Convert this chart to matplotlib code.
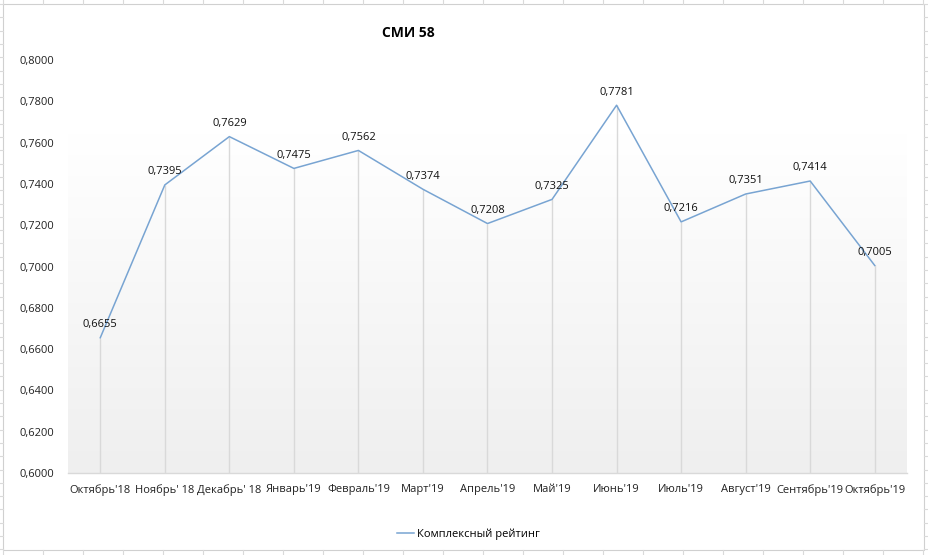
import matplotlib
matplotlib.use("Agg")
import matplotlib.pyplot as plt
import numpy as np
from matplotlib.lines import Line2D
from matplotlib.patches import Rectangle
from matplotlib.colors import LinearSegmentedColormap

plt.rcParams['font.family'] = ['Open Sans', 'DejaVu Sans']

categories = ["Октябрь'18", "Ноябрь' 18", "Декабрь' 18", "Январь'19", "Февраль'19",
              "Март'19", "Апрель'19", "Май'19", "Июнь'19", "Июль'19", "Август'19",
              "Сентябрь'19", "Октябрь'19"]
values = [0.6655, 0.7395, 0.7629, 0.7475, 0.7562, 0.7374, 0.7208, 0.7325,
          0.7781, 0.7216, 0.7351, 0.7414, 0.7005]
yticks = [0.60, 0.62, 0.64, 0.66, 0.68, 0.70, 0.72, 0.74, 0.76, 0.78, 0.80]
title = "СМИ 58"
series_name = "Комплексный рейтинг"

W, H = 929, 555
fig = plt.figure(figsize=(W / 100, H / 100), dpi=100)
fig.patch.set_facecolor('white')

# spreadsheet cell grid in background
gc = '#dadada'
for xv in np.arange(3, W, 40):
    fig.add_artist(Line2D([xv / W, xv / W], [1 - 4 / H, 1], color=gc, lw=0.8))
    fig.add_artist(Line2D([xv / W, xv / W], [0, 1 - 550 / H], color=gc, lw=0.8))
for yv in np.arange(4, H, 13.3):
    fig.add_artist(Line2D([0, 3 / W], [1 - yv / H, 1 - yv / H], color=gc, lw=0.8))
    fig.add_artist(Line2D([924 / W, 1], [1 - yv / H, 1 - yv / H], color=gc, lw=0.8))
fig.add_artist(Rectangle((3 / W, 1 - 550 / H), 921 / W, 546 / H, transform=fig.transFigure,
                         facecolor='white', edgecolor='#d0d0d0', lw=0.8, zorder=0))

ax = fig.add_axes([68 / W, 1 - 473 / H, (907 - 68) / W, (473 - 60) / H])
ax.set_facecolor('none')
x = np.arange(len(categories))
ax.set_xlim(-0.5, len(categories) - 0.5)
ax.set_ylim(0.6, 0.8)

# gradient plot area fill
grad = np.linspace(0, 1, 256).reshape(-1, 1)
cmap = LinearSegmentedColormap.from_list('g', ['#efefef', '#ffffff'])
ax.imshow(grad, extent=(-0.5, len(categories) - 0.5, 0.6, 0.7646), origin='lower',
          aspect='auto', cmap=cmap, zorder=0)

# drop lines
ax.vlines(x, 0.6, values, color='#d9d9d9', lw=1, zorder=1)
ax.plot(x, values, color='#78a4d2', lw=1.1, zorder=3)

for xi, v in zip(x, values):
    ax.annotate(f"{v:.4f}".replace('.', ','), (xi, v), xytext=(0, 5.5),
                textcoords='offset points', ha='center', va='bottom', fontsize=8, color='#111111')

ax.set_xticks(x)
ax.set_xticklabels(categories, fontsize=8, color='#222222')
ax.set_yticks(yticks)
ax.set_yticklabels([f"{t:.4f}".replace('.', ',') for t in yticks], fontsize=8, color='#222222')
ax.tick_params(axis='both', length=0)
ax.tick_params(axis='x', pad=8)
ax.tick_params(axis='y', pad=10)
for s in ['top', 'right', 'left']:
    ax.spines[s].set_visible(False)
ax.spines['bottom'].set_color('#d9d9d9')
ax.spines['bottom'].set_linewidth(1)

fig.text(408 / W, 1 - 33 / H, title, ha='center', va='center', fontsize=10, fontweight='bold')

handle = Line2D([], [], color='#78a4d2', lw=1.1)
fig.legend([handle], [series_name], loc='center', bbox_to_anchor=(468 / W, 1 - 534 / H),
           frameon=False, fontsize=8, handlelength=1.6, handletextpad=0.2)

fig.savefig('out.png', dpi=100)
